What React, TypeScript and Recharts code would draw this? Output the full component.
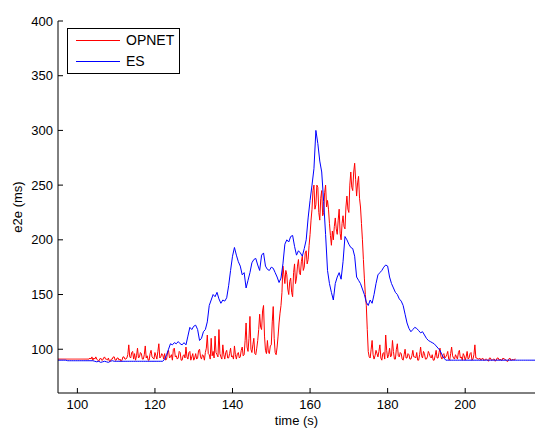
import React from 'react';
import { LineChart, Line, XAxis, YAxis, Legend } from 'recharts';

// OPNET is sampled every 0.25 s, ES every 0.5 s, both starting at t = 95 s
const T_START = 95;
const OPNET_STEP = 0.25;
const ES_STEP = 0.5;

// OPNET e2e delay (ms), 95 s .. 213 s, one row per 10 s
const opnet = [
  91, 91, 91, 91, 91, 91, 91, 91, 91, 91, 91, 91, 91, 91, 91, 91, 91, 91, 91, 91,
  91, 91, 91, 91, 91, 91, 91, 91, 91, 91, 91, 91, 91, 92, 91, 93, 90, 92, 91, 93,
  91, 90, 89, 91, 92, 90, 90, 92, 93, 91, 91, 90, 92, 89, 89, 91, 91, 93, 93, 90,
  90, 92, 92, 90, 91, 89, 90, 93, 93, 91, 91, 92, 95, 104, 93, 92, 97, 98, 91, 96,
  90, 94, 101, 92, 93, 97, 96, 91, 91, 95, 103, 92, 94, 90, 90, 96, 99, 93, 92, 91,
  97, 94, 91, 98, 105, 92, 93, 96, 95, 91, 96, 90, 91, 97, 99, 92, 93, 95, 90, 100,
  101, 93, 94, 91, 92, 98, 97, 90, 90, 94, 95, 92, 102, 93, 91, 97, 98, 90, 93, 96,
  90, 92, 96, 91, 92, 99, 100, 93, 91, 95, 94, 90, 97, 101, 113, 96, 95, 91, 110, 94,
  98, 92, 112, 97, 95, 93, 118, 96, 93, 91, 104, 95, 91, 97, 99, 92, 92, 96, 101, 93,
  94, 91, 103, 95, 91, 96, 97, 92, 93, 99, 102, 94, 95, 108, 124, 102, 98, 110, 130, 100,
  97, 104, 110, 96, 95, 101, 108, 118, 132, 120, 118, 135, 140, 112, 99, 96, 108, 97, 96, 103,
  104, 125, 139, 110, 97, 95, 102, 112, 124, 133, 140, 152, 176, 168, 160, 172, 168, 155, 150, 162,
  165, 152, 148, 170, 178, 160, 165, 176, 182, 170, 168, 180, 185, 172, 175, 188, 190, 178, 182, 195,
  205, 218, 228, 245, 250, 228, 232, 250, 248, 225, 218, 238, 245, 222, 225, 243, 250, 230, 236, 228,
  215, 204, 195, 208, 200, 212, 220, 210, 205, 218, 228, 206, 200, 215, 222, 212, 210, 230, 240, 228,
  225, 250, 262, 248, 245, 262, 270, 255, 240, 252, 258, 238, 230, 215, 200, 182, 165, 150, 140, 118,
  98, 93, 92, 100, 108, 95, 91, 94, 99, 96, 93, 98, 104, 92, 90, 96, 97, 91, 113, 99,
  92, 95, 101, 93, 94, 108, 98, 91, 91, 100, 105, 94, 93, 97, 96, 91, 90, 95, 100, 92,
  92, 96, 95, 91, 91, 94, 99, 93, 93, 92, 97, 90, 90, 95, 102, 94, 92, 98, 96, 91,
  91, 93, 98, 96, 93, 92, 95, 90, 90, 94, 99, 92, 92, 97, 101, 93, 91, 95, 96, 92,
  93, 95, 98, 91, 90, 96, 102, 94, 92, 91, 95, 93, 91, 97, 99, 92, 93, 90, 96, 94,
  90, 93, 98, 91, 92, 96, 97, 90, 91, 95, 104, 92, 92, 91, 91, 92, 90, 91, 92, 90,
  90, 91, 91, 90, 89, 92, 92, 90, 90, 91, 91, 89, 90, 92, 92, 90, 91, 90, 90, 92,
  91, 91, 90, 89, 89, 91, 92, 90, 90, 91, 90, 91, 91,
];

// ES e2e delay (ms), 95 s .. 218 s, one row per 10 s
const es = [
  90, 90, 90, 90, 90, 89.5, 89.5, 89.5, 89.5, 89.5, 89.5, 89.5, 89.5, 89.5, 89.5, 89.5, 89.5, 89.5, 89.5, 89,
  88.5, 89, 88, 88.5, 89, 88.5, 88, 89, 89.5, 89, 89, 89, 89, 89, 89, 89, 89, 89, 89, 89,
  89, 89, 89, 89, 89, 89, 89, 89, 89, 89, 89, 89, 89, 89, 89, 91, 95, 100, 105, 104,
  106, 105, 107, 105, 104, 106, 104, 112, 120, 118, 121, 122, 118, 108, 110, 116, 118, 125, 140, 145,
  150, 148, 152, 146, 142, 145, 144, 147, 158, 172, 185, 193, 186, 180, 176, 168, 170, 156, 163, 170,
  179, 182, 183, 177, 172, 186, 188, 176, 173, 172, 175, 174, 170, 166, 161, 165, 178, 196, 200, 198,
  203, 204, 194, 186, 190, 188, 185, 192, 200, 220, 236, 250, 265, 300, 288, 272, 262, 235, 205, 172,
  160, 152, 145, 160, 166, 170, 164, 180, 203, 200, 196, 193, 192, 185, 166, 163, 160, 155, 150, 143,
  140, 145, 142, 150, 160, 168, 170, 172, 175, 177, 176, 166, 160, 156, 152, 150, 146, 144, 140, 132,
  124, 119, 116, 118, 120, 119, 117, 115, 116, 113, 110, 108, 107, 106, 105, 103, 101, 99, 95, 92,
  90, 90, 90, 90, 90, 90, 90, 90, 90, 90, 90, 90, 90, 90, 90, 90, 90, 90, 90, 90,
  90, 90, 90, 90, 90, 90, 90, 90, 90, 90, 90, 90, 90, 90, 90, 90, 90, 90, 90, 90,
  90, 90, 90, 90, 90, 90, 90,
];

const xTicks = [100, 120, 140, 160, 180, 200];
const yTicks = [100, 150, 200, 250, 300, 350, 400];

const seriesInfo = [
  { key: 'opnet', name: 'OPNET', color: '#ff0000' },
  { key: 'es', name: 'ES', color: '#0000ff' },
];

// merge both series on the finer 0.25 s grid
const ratio = ES_STEP / OPNET_STEP;
const nPoints = Math.max(opnet.length, (es.length - 1) * ratio + 1);
const data = Array.from({ length: nPoints }, (_, i) => ({
  t: T_START + i * OPNET_STEP,
  opnet: i < opnet.length ? opnet[i] : null,
  es: i % ratio === 0 ? es[i / ratio] : null,
}));

const FONT = '"Liberation Sans", Arial, Helvetica, sans-serif';
const TICK_GAP_X = 7;
const TICK_GAP_Y = 5;
const TICK_LEN = 5;

const XTick = (props: any) => {
  const { x, y, payload } = props;
  const axisY = y - TICK_GAP_X;
  return (
    <g>
      <line x1={x} x2={x} y1={axisY} y2={axisY - TICK_LEN} stroke="#000" />
      <text x={x} y={y} dy="0.71em" textAnchor="middle" fontFamily={FONT} fontSize={13} fill="#000">
        {payload.value}
      </text>
    </g>
  );
};

const YTick = (props: any) => {
  const { x, y, payload } = props;
  const axisX = x + TICK_GAP_Y;
  return (
    <g>
      <line x1={axisX} x2={axisX + TICK_LEN} y1={y} y2={y} stroke="#000" />
      <text x={x} y={y} dy="0.35em" textAnchor="end" fontFamily={FONT} fontSize={13} fill="#000">
        {payload.value}
      </text>
    </g>
  );
};

const LegendBox = () => (
  <div
    style={{
      width: 113,
      height: 46,
      boxSizing: 'border-box',
      border: '1px solid #000',
      background: '#fff',
      position: 'relative',
      fontFamily: FONT,
      fontSize: 14,
      color: '#000',
    }}
  >
    {seriesInfo.map((s, i) => (
      <div
        key={s.key}
        style={{ position: 'absolute', left: 8, top: 3 + i * 21, height: 16, display: 'flex', alignItems: 'center' }}
      >
        <span style={{ display: 'inline-block', width: 44, borderTop: `1px solid ${s.color}`, marginRight: 6 }} />
        <span style={{ lineHeight: '16px' }}>{s.name}</span>
      </div>
    ))}
  </div>
);

export default function App() {
  return (
    <div style={{ position: 'absolute', left: 0, top: 0, width: 536, height: 428, background: '#fff' }}>
      <LineChart width={536} height={428} data={data} margin={{ top: 21, right: 1, bottom: 0, left: 0 }}>
        <XAxis
          dataKey="t"
          type="number"
          domain={[95, 218]}
          ticks={xTicks}
          allowDataOverflow
          height={35}
          tickSize={0}
          tickMargin={TICK_GAP_X}
          tickLine={false}
          axisLine={{ stroke: '#000' }}
          tick={<XTick />}
          label={{ value: 'time (s)', position: 'insideBottom', offset: 3, style: { fontFamily: FONT, fontSize: 13, fill: '#000' } }}
        />
        <YAxis
          type="number"
          domain={[60, 400]}
          ticks={yTicks}
          allowDataOverflow
          width={58}
          tickSize={0}
          tickMargin={TICK_GAP_Y}
          tickLine={false}
          axisLine={{ stroke: '#000' }}
          tick={<YTick />}
          label={{
            value: 'e2e (ms)',
            angle: -90,
            position: 'insideLeft',
            offset: 17,
            style: { textAnchor: 'middle', fontFamily: FONT, fontSize: 13, fill: '#000' },
          }}
        />
        <Legend
          layout="horizontal"
          verticalAlign="middle"
          align="center"
          content={<LegendBox />}
          wrapperStyle={{ left: 67, top: 28, width: 113, height: 46 }}
        />
        <Line
          dataKey="opnet"
          name="OPNET"
          stroke="#ff0000"
          strokeWidth={1}
          dot={false}
          type="linear"
          isAnimationActive={false}
        />
        <Line
          dataKey="es"
          name="ES"
          stroke="#0000ff"
          strokeWidth={1}
          dot={false}
          type="linear"
          connectNulls
          isAnimationActive={false}
        />
      </LineChart>
    </div>
  );
}
